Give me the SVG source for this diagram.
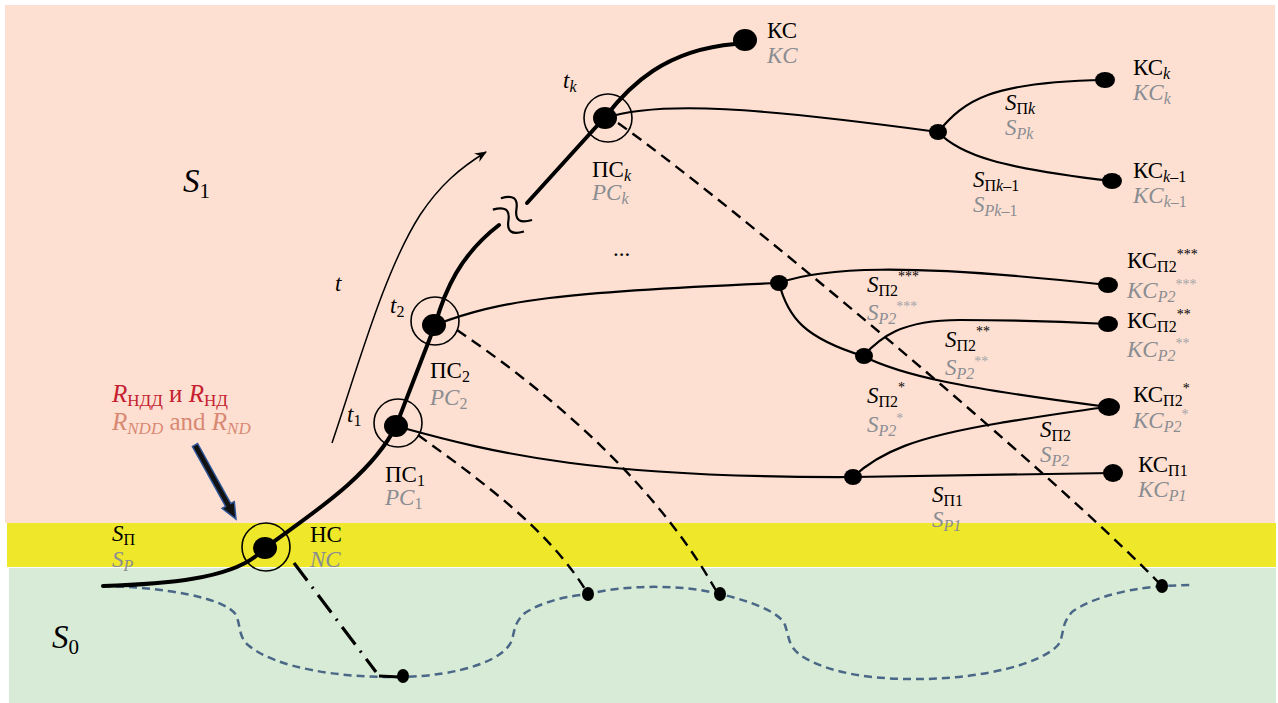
<svg xmlns="http://www.w3.org/2000/svg" width="1278" height="703" viewBox="0 0 1278 703">
<defs>
<style>
text{font-family:"Liberation Serif","Times New Roman",serif;font-size:23px;fill:#000}
.g{fill:#8A8D91;font-style:italic}
.i{font-style:italic}
.n{font-style:normal}
.s{font-size:16px}
.st{font-size:14px}
.gs{fill:#A2A4A7}
.big{font-size:33px}
.bigs{font-size:21px}
.thick{fill:none;stroke:#000;stroke-width:4;stroke-linecap:round}
.thin{fill:none;stroke:#000;stroke-width:2.2;stroke-linecap:round}
.dash{fill:none;stroke:#000;stroke-width:2.4;stroke-dasharray:11 7}
.bdash{fill:none;stroke:#4A6787;stroke-width:2.5;stroke-dasharray:8 5}
.ring{fill:none;stroke:#000;stroke-width:1.6}
.dot{fill:#000}
</style>
<marker id="arr" viewBox="0 0 12 10" refX="11" refY="5" markerWidth="12" markerHeight="10" markerUnits="userSpaceOnUse" orient="auto">
<path d="M0,0 L12,5 L0,10 L4,5 Z" fill="#000"/>
</marker>
</defs>

<g id="background">
<rect x="5" y="5" width="1270" height="518" fill="#FDE0D2"/>
<rect x="7" y="523" width="1269" height="44" fill="#EEE72A"/>
<rect x="9" y="568" width="1267" height="135" fill="#D8EBD6"/>
</g>

<g id="connectors">
<path class="bdash" d="M103,586 C160,587 225,597 236,615 C241,626 238,636 248,645 C275,668 340,678 400,677 C460,676 505,660 512,640 C515,628 515,622 525,613 C545,600 570,596 588,594 C625,585 680,584 720,594 C750,601 780,612 785,625 C790,640 788,645 800,655 C830,675 880,680 925,679 C980,678 1040,665 1058,645 C1065,635 1060,625 1072,612 C1095,595 1140,587 1165,586 L1190,585"/>
<path class="thick" d="M103,586 C170,584 228,578 256,556"/>
<path class="thick" d="M265,548 C305,518 370,478 396,426 L435,325 C445,290 460,255 499,225"/>
<path class="thick" d="M527,203 L605,117 C630,85 665,50 735,44"/>
<g transform="translate(513,214) rotate(35)" fill="none" stroke="#000" stroke-width="2.2">
<path d="M-19,8 C-11,-2 -5,-2 0,8 C5,18 11,18 19,8"/>
<path d="M-19,-6 C-11,-16 -5,-16 0,-6 C5,4 11,4 19,-6"/>
</g>
<path class="thin" d="M396,426 C500,455 600,478 853,477 L1113,473"/>
<path class="thin" d="M853,477 C880,452 915,437 1000,423 C1050,415 1080,410 1108,407"/>
<path class="thin" d="M435,325 C500,300 560,292 779,283"/>
<path class="thin" d="M779,283 C820,268 900,262 1108,285"/>
<path class="thin" d="M779,283 C788,318 805,338 863,356"/>
<path class="thin" d="M863,356 C880,338 900,320 960,320 C1020,320 1070,322 1108,324"/>
<path class="thin" d="M863,356 C900,375 960,388 1108,407"/>
<path class="thin" d="M605,118 C660,100 760,108 938,132"/>
<path class="thin" d="M938,132 C965,100 990,82 1105,80"/>
<path class="thin" d="M938,132 C960,155 1000,168 1112,181"/>
<path class="dash" d="M618,123 C720,195 1050,470 1162,586"/>
<path class="dash" d="M457,330 C560,400 660,490 718,594"/>
<path class="dash" d="M418,435 C480,480 550,530 588,594"/>
<path fill="none" stroke="#000" stroke-width="3.2" stroke-dasharray="22 8 2 8" d="M294,563 L376,672"/>
<path fill="none" stroke="#000" stroke-width="3" d="M379,676 L400,677"/>
<path fill="none" stroke="#000" stroke-width="1.5" marker-end="url(#arr)" d="M332,443 C360,360 385,270 420,215 C440,185 460,168 486,152"/>
<polygon points="197.6,443.5 230.8,503.5 234.3,501.6 236,519 222.1,508.4 225.6,506.5 192.4,446.5" fill="#111" stroke="#2F5597" stroke-width="1.5" stroke-linejoin="miter"/>
</g>

<g id="NC">
<circle class="ring" cx="266" cy="547" r="24"/>
<ellipse class="dot" cx="265" cy="548" rx="12" ry="11"/>
<text x="310" y="542">НС</text>
<text class="g" x="310" y="567">NC</text>
</g>
<g id="PC1">
<circle class="ring" cx="398" cy="423" r="24"/>
<ellipse class="dot" cx="396" cy="426" rx="12" ry="11"/>
<text x="385" y="482">ПС<tspan class="s" dy="4">1</tspan></text>
<text class="g" x="385" y="505">PC<tspan class="s n" dy="4">1</tspan></text>
<text class="i" x="347" y="422">t<tspan class="s n" dy="4">1</tspan></text>
</g>
<g id="PC2">
<circle class="ring" cx="435" cy="321" r="24"/>
<ellipse class="dot" cx="434" cy="325" rx="12" ry="11"/>
<text x="430" y="378">ПС<tspan class="s" dy="4">2</tspan></text>
<text class="g" x="430" y="405">PC<tspan class="s n" dy="4">2</tspan></text>
<text class="i" x="390" y="313">t<tspan class="s n" dy="4">2</tspan></text>
</g>
<g id="PCk">
<circle class="ring" cx="608" cy="118" r="24"/>
<ellipse class="dot" cx="605" cy="118" rx="12" ry="11"/>
<text x="592" y="177">ПС<tspan class="s i" dy="4">k</tspan></text>
<text class="g" x="592" y="200">PC<tspan class="s" dy="4">k</tspan></text>
<text class="i" x="563" y="88">t<tspan class="s" dy="4">k</tspan></text>
</g>
<g id="KC">
<ellipse class="dot" cx="745" cy="40" rx="12" ry="11"/>
<text x="767" y="38">КС</text>
<text class="g" x="767" y="63">KC</text>
</g>
<g id="Jk"><ellipse class="dot" cx="938" cy="132" rx="9" ry="8"/></g>
<g id="KCk">
<ellipse class="dot" cx="1105" cy="80" rx="10" ry="8"/>
<text x="1133" y="75">КС<tspan class="s i" dy="4">k</tspan></text>
<text class="g" x="1133" y="100">KC<tspan class="s" dy="4">k</tspan></text>
</g>
<g id="KCk1">
<ellipse class="dot" cx="1112" cy="181" rx="10" ry="8"/>
<text x="1133" y="178">КС<tspan class="s i" dy="4">k</tspan><tspan class="s">–1</tspan></text>
<text class="g" x="1133" y="203">KC<tspan class="s" dy="4">k</tspan><tspan class="s n">–1</tspan></text>
</g>
<g id="J1"><ellipse class="dot" cx="779" cy="283" rx="9" ry="8"/></g>
<g id="J2"><ellipse class="dot" cx="864" cy="356" rx="9" ry="8"/></g>
<g id="J3"><ellipse class="dot" cx="853" cy="477" rx="9" ry="8"/></g>
<g id="KCP2_3">
<ellipse class="dot" cx="1108" cy="285" rx="10" ry="8"/>
<text x="1127" y="268">КС<tspan class="s" dy="4">П2</tspan><tspan class="st" dy="-13">***</tspan></text>
<text class="g" x="1127" y="298">KC<tspan class="s" dy="4">P2</tspan><tspan class="st n gs" dy="-13">***</tspan></text>
</g>
<g id="KCP2_2">
<ellipse class="dot" cx="1108" cy="324" rx="10" ry="8"/>
<text x="1127" y="328">КС<tspan class="s" dy="4">П2</tspan><tspan class="st" dy="-13">**</tspan></text>
<text class="g" x="1127" y="357">KC<tspan class="s" dy="4">P2</tspan><tspan class="st n gs" dy="-13">**</tspan></text>
</g>
<g id="KCP2_1">
<ellipse class="dot" cx="1109" cy="407" rx="11" ry="9"/>
<text x="1133" y="402">КС<tspan class="s" dy="4">П2</tspan><tspan class="st" dy="-13">*</tspan></text>
<text class="g" x="1133" y="428">KC<tspan class="s" dy="4">P2</tspan><tspan class="st n gs" dy="-13">*</tspan></text>
</g>
<g id="KCP1">
<ellipse class="dot" cx="1113" cy="473" rx="10" ry="9"/>
<text x="1138" y="472">КС<tspan class="s" dy="4">П1</tspan></text>
<text class="g" x="1138" y="497">KC<tspan class="s" dy="4">P1</tspan></text>
</g>
<g id="B1"><ellipse class="dot" cx="403" cy="676" rx="6" ry="7"/></g>
<g id="B2"><ellipse class="dot" cx="588" cy="594" rx="6" ry="7"/></g>
<g id="B3"><ellipse class="dot" cx="720" cy="594" rx="6" ry="7"/></g>
<g id="B4"><ellipse class="dot" cx="1162" cy="586" rx="6" ry="7"/></g>

<g id="labels">
<text class="i big" x="183" y="192">S<tspan class="n bigs" dy="6">1</tspan></text>
<text class="i big" x="52" y="648">S<tspan class="n bigs" dy="6">0</tspan></text>
<text class="i" x="335" y="291">t</text>
<text x="613" y="256">...</text>
<text x="112" y="541"><tspan class="i">S</tspan><tspan class="s" dy="4">П</tspan></text>
<text class="g" x="112" y="567">S<tspan class="s" dy="4">P</tspan></text>
<text x="112" y="402" style="font-size:25px;fill:#C62030"><tspan class="i">R</tspan><tspan style="font-size:17px" dy="4">НДД</tspan><tspan dy="-4"> и </tspan><tspan class="i">R</tspan><tspan style="font-size:17px" dy="4">НД</tspan></text>
<text x="112" y="430" style="font-size:25px;fill:#D98872"><tspan class="i">R</tspan><tspan class="i" style="font-size:17px" dy="4">NDD</tspan><tspan dy="-4"> and </tspan><tspan class="i">R</tspan><tspan class="i" style="font-size:17px" dy="4">ND</tspan></text>
<text x="1005" y="110"><tspan class="i">S</tspan><tspan class="s" dy="4">П</tspan><tspan class="s i">k</tspan></text>
<text class="g" x="1005" y="135">S<tspan class="s" dy="4">Pk</tspan></text>
<text x="973" y="187"><tspan class="i">S</tspan><tspan class="s" dy="4">П</tspan><tspan class="s i">k</tspan><tspan class="s">–1</tspan></text>
<text class="g" x="973" y="212">S<tspan class="s" dy="4">Pk</tspan><tspan class="s n">–1</tspan></text>
<text x="867" y="292"><tspan class="i">S</tspan><tspan class="s" dy="4">П2</tspan><tspan class="st" dy="-15">***</tspan></text>
<text class="g" x="867" y="320">S<tspan class="s" dy="4">P2</tspan><tspan class="st n gs" dy="-13">***</tspan></text>
<text x="945" y="347"><tspan class="i">S</tspan><tspan class="s" dy="4">П2</tspan><tspan class="st" dy="-15">**</tspan></text>
<text class="g" x="945" y="375">S<tspan class="s" dy="4">P2</tspan><tspan class="st n gs" dy="-13">**</tspan></text>
<text x="867" y="403"><tspan class="i">S</tspan><tspan class="s" dy="4">П2</tspan><tspan class="st" dy="-15">*</tspan></text>
<text class="g" x="867" y="432">S<tspan class="s" dy="4">P2</tspan><tspan class="st n gs" dy="-13">*</tspan></text>
<text x="1040" y="437"><tspan class="i">S</tspan><tspan class="s" dy="4">П2</tspan></text>
<text class="g" x="1040" y="462">S<tspan class="s" dy="4">P2</tspan></text>
<text x="932" y="502"><tspan class="i">S</tspan><tspan class="s" dy="4">П1</tspan></text>
<text class="g" x="932" y="527">S<tspan class="s" dy="4">P1</tspan></text>
</g>
</svg>
